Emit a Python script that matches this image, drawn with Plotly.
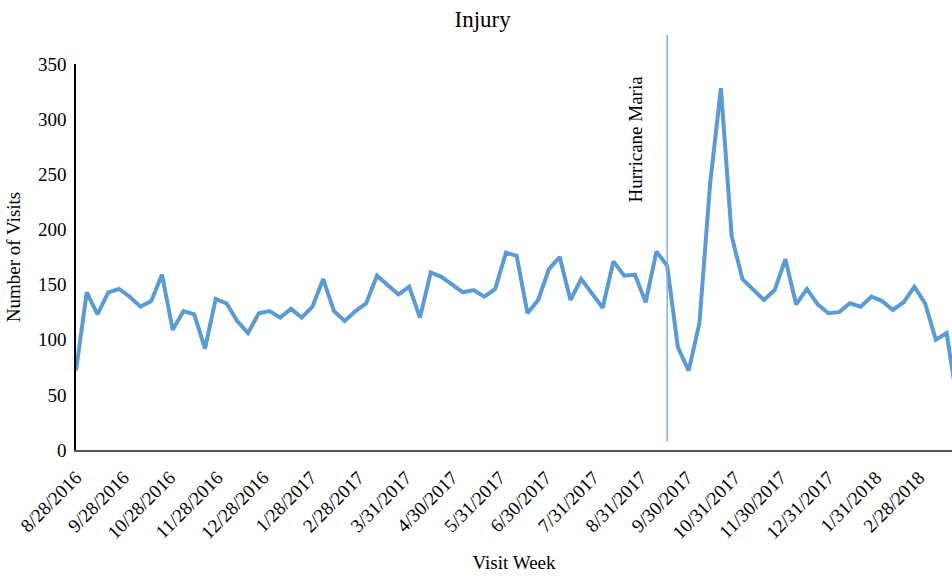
import pandas as pd
import plotly.graph_objects as go

# Weekly injury-related visits, weeks starting 8/28/2016
week_start = "2016-08-28"
visits = [
    72, 143, 123, 143, 146, 139, 130, 135, 159, 109,
    126, 123, 92, 137, 133, 117, 106, 124, 126, 120,
    128, 120, 130, 155, 126, 117, 126, 133, 158, 149,
    141, 148, 120, 161, 157, 150, 143, 145, 139, 146,
    179, 176, 124, 136, 164, 175, 136, 155, 142, 129,
    171, 158, 159, 134, 180, 167, 93, 72, 115, 242,
    328, 194, 155, 145, 136, 145, 173, 132, 146, 132,
    124, 125, 133, 130, 139, 135, 127, 134, 148, 133,
    100, 106, 43,
]
weeks = pd.date_range(week_start, periods=len(visits), freq="7D")

# Monthly axis labels
tick_dates = [
    "2016-08-28", "2016-09-28", "2016-10-28", "2016-11-28", "2016-12-28",
    "2017-01-28", "2017-02-28", "2017-03-31", "2017-04-30", "2017-05-31",
    "2017-06-30", "2017-07-31", "2017-08-31", "2017-09-30", "2017-10-31",
    "2017-11-30", "2017-12-31", "2018-01-31", "2018-02-28",
]
tick_labels = [
    "8/28/2016", "9/28/2016", "10/28/2016", "11/28/2016", "12/28/2016",
    "1/28/2017", "2/28/2017", "3/31/2017", "4/30/2017", "5/31/2017",
    "6/30/2017", "7/31/2017", "8/31/2017", "9/30/2017", "10/31/2017",
    "11/30/2017", "12/31/2017", "1/31/2018", "2/28/2018",
]

hurricane_week = "2017-09-17"
x_range = ["2016-08-28", "2018-03-21 12:00"]

font = "Liberation Serif, Times New Roman, serif"

fig = go.Figure()
fig.add_trace(go.Scatter(
    x=weeks, y=visits, mode="lines",
    line=dict(color="#5B9BD5", width=4),
    showlegend=False, hoverinfo="x+y",
))

# Hurricane Maria marker
fig.add_shape(
    type="line", xref="x", yref="paper",
    x0=hurricane_week, x1=hurricane_week, y0=0.022, y1=1.075,
    line=dict(color="#7EB0E0", width=1.5),
)
fig.add_annotation(
    x=hurricane_week, xref="x", y=0.805, yref="paper",
    text="Hurricane Maria", textangle=-90, showarrow=False,
    xanchor="center", yanchor="middle",
    xshift=-32, font=dict(family=font, size=19, color="black"),
)

fig.update_layout(
    width=952, height=576,
    margin=dict(l=76, r=0, t=64, b=126),
    paper_bgcolor="white", plot_bgcolor="white",
    font=dict(family=font, size=19, color="black"),
    title=dict(text="Injury", x=0.507, xanchor="center", y=0.967, yanchor="middle",
               font=dict(family=font, size=23, color="black")),
    xaxis=dict(
        range=x_range, type="date",
        tickmode="array", tickvals=tick_dates, ticktext=tick_labels,
        tickangle=-45, ticks="outside", ticklen=7, tickcolor="rgba(0,0,0,0)",
        showgrid=False, zeroline=False,
        showline=True, linecolor="#555555", linewidth=2,
        title=dict(text="Visit Week", font=dict(family=font, size=19), standoff=14),
        tickfont=dict(family=font, size=19),
    ),
    yaxis=dict(
        range=[0, 350], tickvals=[0, 50, 100, 150, 200, 250, 300, 350],
        ticks="outside", ticklen=4, tickcolor="rgba(0,0,0,0)",
        showgrid=False, zeroline=False,
        showline=True, linecolor="black", linewidth=1.5,
        title=dict(text="Number of Visits", font=dict(family=font, size=19), standoff=12),
        tickfont=dict(family=font, size=19),
    ),
)

fig.write_html("out.html")
